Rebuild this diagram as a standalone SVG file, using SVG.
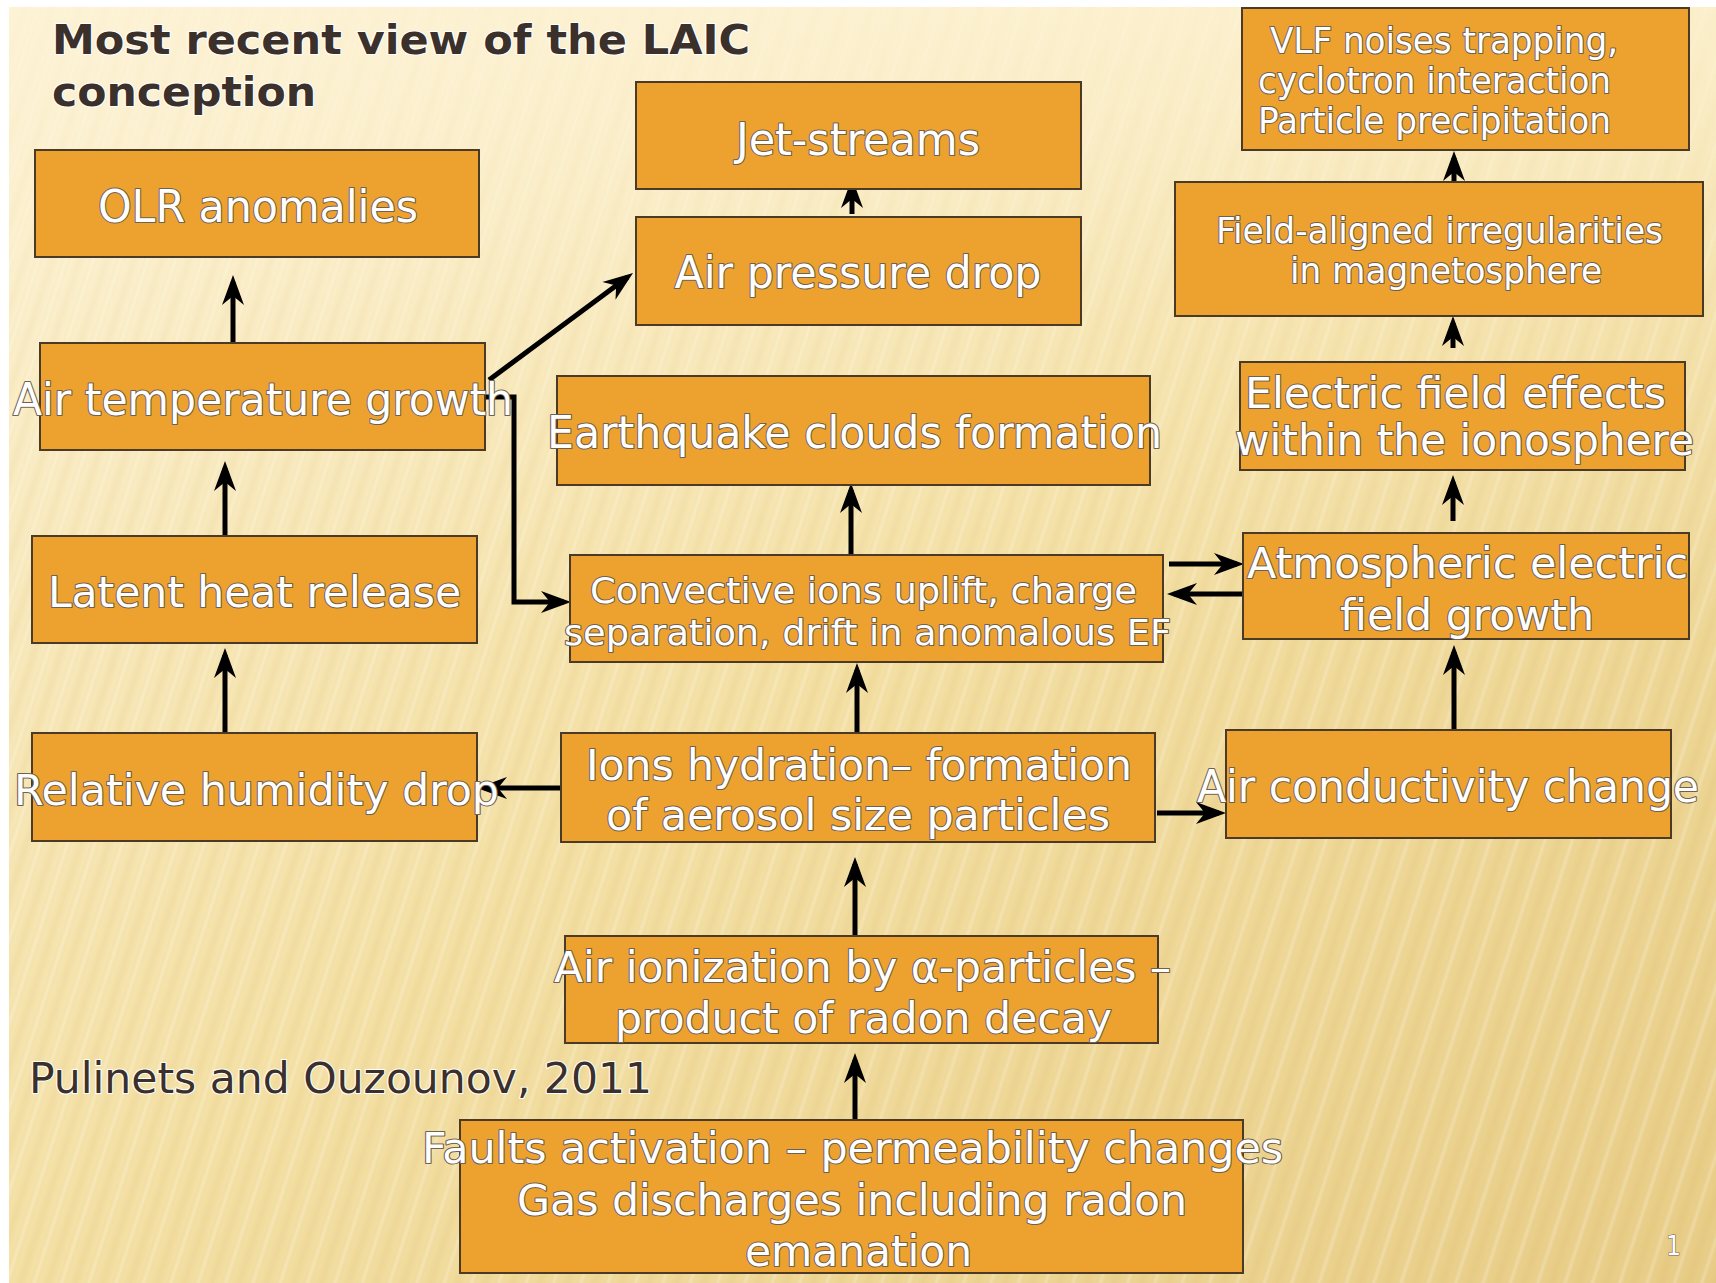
<svg xmlns="http://www.w3.org/2000/svg" width="1716" height="1283" viewBox="0 0 1716 1283">
<style>
.box{fill:#eda230;stroke:#4a3a26;stroke-width:2}
.t{font-family:"DejaVu Sans Condensed","DejaVu Sans",sans-serif;fill:#fff;stroke:#6f604f;stroke-width:2;paint-order:stroke;stroke-linejoin:round}
.dk{font-family:"DejaVu Sans Condensed","DejaVu Sans",sans-serif;fill:#3b302a;stroke:#fff;stroke-width:2;paint-order:stroke;stroke-linejoin:round}
.c{fill:none;stroke:#000;stroke-width:5;marker-end:url(#ah)}
</style>
<defs>
<linearGradient id="bg" x1="0" y1="0" x2="1" y2="1">
<stop offset="0" stop-color="#fdf3d6"/>
<stop offset="0.5" stop-color="#f5e2a8"/>
<stop offset="1" stop-color="#e8cd88"/>
</linearGradient>
<linearGradient id="sg" x1="0" y1="0" x2="1" y2="0">
<stop offset="0" stop-color="#d2ad55" stop-opacity="0.14"/>
<stop offset="0.3" stop-color="#d2ad55" stop-opacity="0.02"/>
<stop offset="0.5" stop-color="#fffbe8" stop-opacity="0.3"/>
<stop offset="0.7" stop-color="#d2ad55" stop-opacity="0.02"/>
<stop offset="1" stop-color="#d2ad55" stop-opacity="0.14"/>
</linearGradient>
<pattern id="stripes" width="26" height="26" patternUnits="userSpaceOnUse" patternTransform="rotate(18)">
<rect width="26" height="26" fill="url(#sg)"/>
</pattern>
<linearGradient id="fade" x1="0" y1="0" x2="0" y2="1">
<stop offset="0" stop-color="#fdf3d6" stop-opacity="0.8"/>
<stop offset="0.25" stop-color="#fdf3d6" stop-opacity="0.25"/>
<stop offset="0.5" stop-color="#fdf3d6" stop-opacity="0"/>
</linearGradient>
<marker id="ah" markerUnits="userSpaceOnUse" markerWidth="30" markerHeight="24" viewBox="0 0 30 24" refX="23" refY="12" orient="auto">
<path d="M0,1 L30,12 L0,23 L9,12 Z" fill="#000"/>
</marker>
</defs>
<rect width="1716" height="1283" fill="#fff"/>
<rect x="9" y="7" width="1707" height="1276" fill="url(#bg)"/>
<rect x="9" y="7" width="1707" height="1276" fill="url(#stripes)"/>
<rect x="9" y="7" width="1707" height="1276" fill="url(#fade)"/>

<text class="dk" x="52" y="54" font-size="40" font-weight="bold" textLength="698" lengthAdjust="spacingAndGlyphs">Most recent view of the LAIC</text>
<text class="dk" x="52" y="106" font-size="40" font-weight="bold" textLength="264" lengthAdjust="spacingAndGlyphs">conception</text>

<g id="connectors">
<path class="c" d="M233,343 V282"/>
<path class="c" d="M225,536 V468"/>
<path class="c" d="M225,733 V655"/>
<path class="c" d="M561,788 H484"/>
<path class="c" d="M489,380 L627.4,277.2"/>
<path class="c" d="M485,397 H514 V602 H564"/>
<path class="c" d="M852,214 V185"/>
<path class="c" d="M851,555 V490"/>
<path class="c" d="M857,733 V670"/>
<path class="c" d="M855,936 V864"/>
<path class="c" d="M855,1120 V1060"/>
<path class="c" d="M1169,564 H1237"/>
<path class="c" d="M1243,594 H1174"/>
<path class="c" d="M1157,813 H1219"/>
<path class="c" d="M1454,730 V652"/>
<path class="c" d="M1453,521 V482"/>
<path class="c" d="M1453,348 V323"/>
<path class="c" d="M1454,182 V158"/>
</g>

<g id="olr"><rect class="box" x="35" y="150" width="444" height="107"/>
<text class="t" x="258" y="222" font-size="44" text-anchor="middle" textLength="320" lengthAdjust="spacingAndGlyphs">OLR anomalies</text></g>

<g id="jet"><rect class="box" x="636" y="82" width="445" height="107"/>
<text class="t" x="858" y="155" font-size="44" text-anchor="middle" textLength="244" lengthAdjust="spacingAndGlyphs">Jet-streams</text></g>

<g id="pressure"><rect class="box" x="636" y="217" width="445" height="108"/>
<text class="t" x="858" y="288" font-size="44" text-anchor="middle" textLength="367" lengthAdjust="spacingAndGlyphs">Air pressure drop</text></g>

<g id="vlf"><rect class="box" x="1242" y="8" width="447" height="142"/>
<text class="t" x="1270" y="53" font-size="36" textLength="348" lengthAdjust="spacingAndGlyphs">VLF noises trapping,</text>
<text class="t" x="1258" y="93" font-size="36" textLength="353" lengthAdjust="spacingAndGlyphs">cyclotron interaction</text>
<text class="t" x="1258" y="133" font-size="36" textLength="353" lengthAdjust="spacingAndGlyphs">Particle precipitation</text></g>

<g id="fieldaligned"><rect class="box" x="1175" y="182" width="528" height="134"/>
<text class="t" x="1216" y="243" font-size="36" textLength="447" lengthAdjust="spacingAndGlyphs">Field-aligned irregularities</text>
<text class="t" x="1290" y="283" font-size="36" textLength="312" lengthAdjust="spacingAndGlyphs">in magnetosphere</text></g>

<g id="efeffects"><rect class="box" x="1240" y="362" width="445" height="108"/>
<text class="t" x="1245" y="408" font-size="42" textLength="421" lengthAdjust="spacingAndGlyphs">Electric field effects</text>
<text class="t" x="1235" y="455" font-size="42" textLength="459" lengthAdjust="spacingAndGlyphs">within the ionosphere</text></g>

<g id="airtemp"><rect class="box" x="40" y="343" width="445" height="107"/>
<text class="t" x="13" y="415" font-size="44" textLength="500" lengthAdjust="spacingAndGlyphs">Air temperature growth</text></g>

<g id="eqclouds"><rect class="box" x="557" y="376" width="593" height="109"/>
<text class="t" x="547" y="448" font-size="44" textLength="615" lengthAdjust="spacingAndGlyphs">Earthquake clouds formation</text></g>

<g id="latent"><rect class="box" x="32" y="536" width="445" height="107"/>
<text class="t" x="48" y="607" font-size="42" textLength="413" lengthAdjust="spacingAndGlyphs">Latent heat release</text></g>

<g id="convective"><rect class="box" x="570" y="555" width="593" height="107"/>
<text class="t" x="590" y="603" font-size="36" textLength="547" lengthAdjust="spacingAndGlyphs">Convective ions uplift, charge</text>
<text class="t" x="564" y="645" font-size="36" textLength="607" lengthAdjust="spacingAndGlyphs">separation, drift in anomalous EF</text></g>

<g id="atmef"><rect class="box" x="1243" y="533" width="446" height="106"/>
<text class="t" x="1247" y="578" font-size="42" textLength="441" lengthAdjust="spacingAndGlyphs">Atmospheric electric</text>
<text class="t" x="1340" y="630" font-size="42" textLength="254" lengthAdjust="spacingAndGlyphs">field growth</text></g>

<g id="humidity"><rect class="box" x="32" y="733" width="445" height="108"/>
<text class="t" x="14" y="805" font-size="42" textLength="485" lengthAdjust="spacingAndGlyphs">Relative humidity drop</text></g>

<g id="hydration"><rect class="box" x="561" y="733" width="594" height="109"/>
<text class="t" x="586" y="780" font-size="42" textLength="546" lengthAdjust="spacingAndGlyphs">Ions hydration– formation</text>
<text class="t" x="606" y="830" font-size="42" textLength="504" lengthAdjust="spacingAndGlyphs">of aerosol size particles</text></g>

<g id="conductivity"><rect class="box" x="1226" y="730" width="445" height="108"/>
<text class="t" x="1197" y="802" font-size="44" textLength="502" lengthAdjust="spacingAndGlyphs">Air conductivity change</text></g>

<g id="ionization"><rect class="box" x="565" y="936" width="593" height="107"/>
<text class="t" x="554" y="982" font-size="42" textLength="617" lengthAdjust="spacingAndGlyphs">Air ionization by α-particles –</text>
<text class="t" x="615" y="1033" font-size="42" textLength="497" lengthAdjust="spacingAndGlyphs">product of radon decay</text></g>

<g id="faults"><rect class="box" x="460" y="1120" width="783" height="153"/>
<text class="t" x="422" y="1163" font-size="42" textLength="861" lengthAdjust="spacingAndGlyphs">Faults activation – permeability changes</text>
<text class="t" x="517" y="1215" font-size="42" textLength="670" lengthAdjust="spacingAndGlyphs">Gas discharges including radon</text>
<text class="t" x="745" y="1266" font-size="42" textLength="227" lengthAdjust="spacingAndGlyphs">emanation</text></g>

<text class="dk" x="29" y="1093" font-size="42" textLength="623" lengthAdjust="spacingAndGlyphs">Pulinets and Ouzounov, 2011</text>
<text class="t" x="1666" y="1255" font-size="26" style="stroke-width:1">1</text>
</svg>
